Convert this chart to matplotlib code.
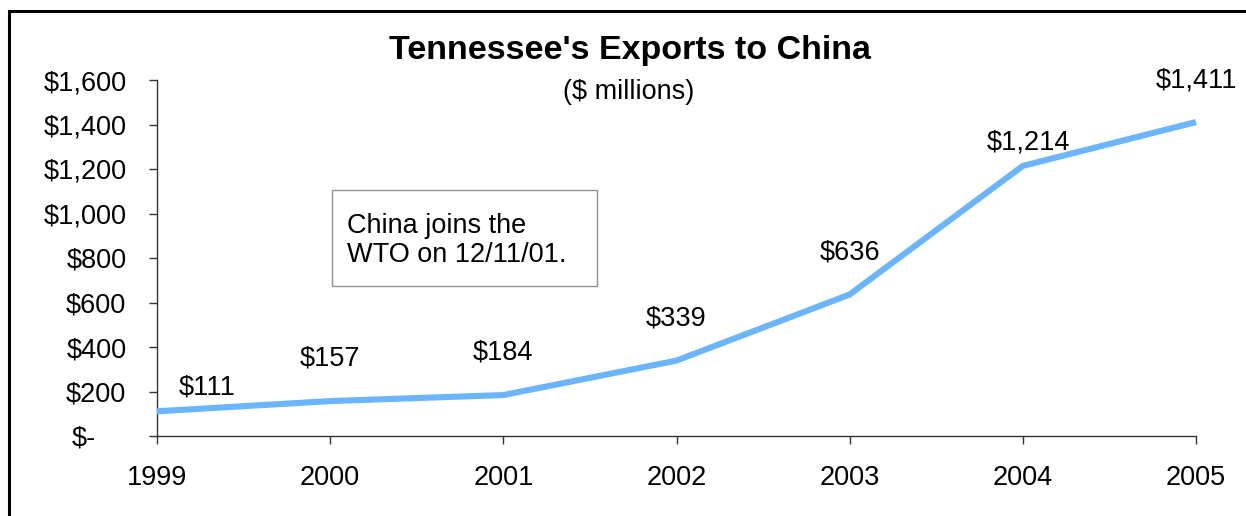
import matplotlib.pyplot as plt
from matplotlib.patches import Rectangle
from matplotlib.transforms import ScaledTranslation

# exports, $ millions
years = [1999, 2000, 2001, 2002, 2003, 2004, 2005]
exports = [111, 157, 184, 339, 636, 1214, 1411]
value_labels = ["$111", "$157", "$184", "$339", "$636", "$1,214", "$1,411"]
# where each value label sits relative to its point (points)
label_offsets = [(36, 17), (0, 31), (0, 31), (0, 30), (0, 30), (4, 17), (0, 30)]

yticks = [0, 200, 400, 600, 800, 1000, 1200, 1400, 1600]
ytick_labels = ["$-", "$200", "$400", "$600", "$800", "$1,000", "$1,200", "$1,400", "$1,600"]

plt.rcParams['font.family'] = ['Liberation Sans', 'DejaVu Sans']
fs = 19.5

fig = plt.figure(figsize=(12.46, 5.16), dpi=100)
ax = fig.add_axes([157 / 1246, 80 / 516, (1196 - 157) / 1246, (436 - 80) / 516])

ax.plot(years, exports, color='#6BB5FF', lw=4.4, solid_capstyle='butt',
        solid_joinstyle='miter', clip_on=False, zorder=3)

for x, y, txt, off in zip(years, exports, value_labels, label_offsets):
    ax.annotate(txt, (x, y), xytext=off, textcoords='offset points',
                ha='center', va='center', fontsize=fs)

ax.set_xlim(1999, 2005)
ax.set_ylim(0, 1600)
ax.set_xticks(years)
ax.set_xticklabels([str(y) for y in years], fontsize=fs)
ax.set_yticks(yticks)
ax.set_yticklabels(ytick_labels, fontsize=fs)

for side in ['top', 'right']:
    ax.spines[side].set_visible(False)
for side in ['left', 'bottom']:
    ax.spines[side].set_color('#333333')
    ax.spines[side].set_linewidth(1.0)
ax.tick_params(axis='both', direction='out', length=5.5, width=1.0, color='#333333')
ax.tick_params(axis='x', pad=15.5)
ax.tick_params(axis='y', pad=16.5)

# accounting-style zero label sits further left
zero_lbl = ax.get_yticklabels()[0]
zero_lbl.set_transform(zero_lbl.get_transform() + ScaledTranslation(-0.30, 0, fig.dpi_scale_trans))

fig.text(630 / 1246, 1 - 50 / 516, "Tennessee's Exports to China", fontsize=24.5,
         fontweight='bold', ha='center', va='center')
fig.text(629 / 1246, 1 - 92 / 516, "($ millions)", fontsize=fs, ha='center', va='center')

# note box
fig.patches.append(Rectangle((332 / 1246, 1 - 286 / 516), (597 - 332) / 1246, (286 - 190) / 516,
                             transform=fig.transFigure, fill=False, edgecolor='#909090', lw=1.0))
fig.text(347 / 1246, 1 - 241 / 516, "China joins the\nWTO on 12/11/01.", fontsize=fs,
         ha='left', va='center', linespacing=1.15)

# outer frame
fig.patches.append(Rectangle((9 / 1246, -0.1), 1.2, 1 - 11 / 516 + 0.1,
                             transform=fig.transFigure, fill=False, edgecolor='black', lw=2.2))

fig.savefig('out.png', dpi=100)
